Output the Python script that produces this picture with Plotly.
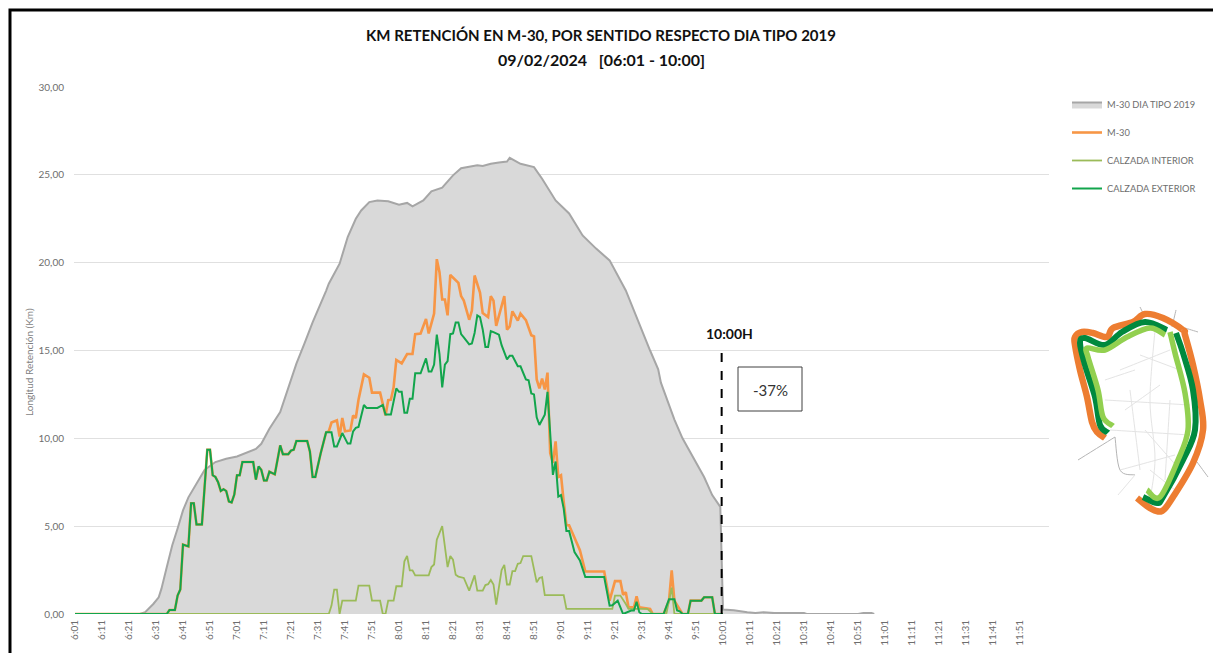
import plotly.graph_objects as go

W, H = 1213, 653
TICK_LABELS = ["6:01","6:11","6:21","6:31","6:41","6:51","7:01","7:11","7:21","7:31","7:41","7:51",
               "8:01","8:11","8:21","8:31","8:41","8:51","9:01","9:11","9:21","9:31","9:41","9:51",
               "10:01","10:11","10:21","10:31","10:41","10:51","11:01","11:11","11:21","11:31","11:41","11:51"]
Y_TICKS = [0, 5, 10, 15, 20, 25, 30]
Y_LABELS = ["0,00", "5,00", "10,00", "15,00", "20,00", "25,00", "30,00"]

# minutes after 6:01, km
tipo_min = [0,24,26,29,31,32,34,36,38,40,42,44,46,48,52,56,60,62,67,69,72,76,79,82,85,88,93,94,98,101,104,106,109,112,116,120,123,125,129,132,136,140,143,149,151,154,157,160,161,165,170,173,178,183,188,193,198,204,213,216,217,222,225,229,233,236,239,240,244,249,252,255,259,270,271,290,292,295,296]
tipo_val = [0,0,.1,.57,.95,1.43,2.67,3.9,4.87,5.9,6.64,7.15,7.73,8.2,8.65,8.84,8.97,9.1,9.4,9.69,10.55,11.5,12.9,14.25,15.4,16.6,18.4,18.8,19.94,21.46,22.5,22.97,23.45,23.54,23.5,23.3,23.4,23.2,23.54,24.06,24.27,24.97,25.38,25.54,25.5,25.63,25.7,25.76,25.97,25.63,25.44,24.78,23.54,22.8,21.55,20.8,20.13,18.42,15.0,13.93,13.17,11.07,10.0,8.87,7.8,6.77,6.1,.25,.22,.1,.06,.1,.05,.05,0,0,.06,.06,0]

ext_min = [0,34,35,37,38,39,40,42,43,44,45,47,49,50,51,52,53,54,55,56,57,58,59,60,61,62,66,67,68,69,70,71,72,74,76,77,79,80,81,82,86,87,88,89,91,93,95,96,97,99,101,102,103,104,105,107,108,112,114,115,117,119,120,121,122,123,124,125,126,128,130,131,132,133,134,135,136,137,138,139,140,141,142,143,144,146,147,148,149,150,151,152,153,154,155,157,158,160,161,162,164,165,167,168,169,170,171,172,174,175,177,178,179,180,181,182,183,185,187,189,196,198,199,201,203,206,207,208,209,210,218,220,222,223,224,225,227,228,232,233,236,237,240]
ext_val = [0,0,.23,.23,1.05,1.4,3.95,3.85,6.3,6.3,5.1,5.1,9.35,9.35,7.9,7.8,7.5,7.0,7.1,7.0,6.4,6.35,6.8,7.9,7.9,8.65,8.65,7.65,8.4,8.2,7.6,7.6,8.1,7.95,9.6,9.1,9.1,9.3,9.35,9.85,9.85,9.25,7.8,7.8,9.15,10.34,10.34,9.54,9.54,10.3,9.7,9.7,10.4,10.6,10.65,11.9,11.73,11.73,11.9,11.35,11.35,12.84,12.65,12.65,11.45,11.45,12.25,12.25,13.7,13.7,14.55,13.8,13.8,14.2,15.9,14.8,12.9,14.2,14.4,15.93,15.97,16.6,16.6,15.93,15.75,15.35,15.4,16.0,17.0,16.9,16.2,15.2,15.2,16.1,16.05,15.9,15.3,14.5,14.7,14.7,14.1,14.1,13.35,13.3,12.55,12.5,11.2,10.76,11.35,12.65,7.92,8.68,6.68,6.77,6.0,4.73,4.73,3.53,3.05,2.1,2.1,.48,.5,.76,0,.2,.2,.7,.1,0,0,.84,.84,.2,.15,0,0,.76,.76,.95,.95,0,0]

m30_min = [0,34,35,37,38,39,40,42,43,44,45,47,49,50,51,52,53,54,55,56,57,58,59,60,61,62,66,67,68,69,70,71,72,74,76,77,79,80,81,82,86,87,88,89,91,
           93,94,95,97,98,99,100,102,103,104,105,107,109,110,113,115,116,117,118,119,121,123,125,126,128,130,131,133,134,135,136,137,138,139,
           142,143,144,146,147,148,150,151,153,154,155,156,159,160,161,162,164,165,167,169,170,171,172,173,174,175,
           176,177,178,179,180,181,182,183,186,187,189,196,198,200,202,203,204,205,207,208,209,213,214,218,220,221,222,224,225,227,228,232,233,236,237,240]
m30_val = [0,0,.23,.23,1.05,1.4,3.95,3.85,6.3,6.3,5.1,5.1,9.35,9.35,7.9,7.8,7.5,7.0,7.1,7.0,6.4,6.35,6.8,7.9,7.9,8.65,8.65,7.65,8.4,8.2,7.6,7.6,8.1,7.95,9.6,9.1,9.1,9.3,9.35,9.85,9.85,9.25,7.8,7.8,9.15,
           10.34,10.4,10.9,11.03,10.1,11.16,10.4,10.45,11.3,11.16,12.2,13.64,13.45,12.6,12.6,11.3,12.17,12.2,12.9,14.46,14.27,14.8,14.8,15.93,15.97,16.8,15.97,17.1,20.2,19.46,17.9,17.9,17.0,19.3,
           18.85,18.1,17.84,16.75,17.27,19.27,18.3,17.13,16.9,18.09,17.84,16.4,18.1,16.18,16.37,17.23,16.7,17.1,16.73,15.87,15.8,13.35,12.84,13.4,12.78,13.74,
           9.16,8.6,9.83,7.8,7.9,6.4,5.05,5.05,3.9,3.63,2.42,2.42,.76,1.87,1.87,1.1,1.24,.38,.38,1.0,.38,.29,0,0,.76,2.48,.76,.2,0,0,.76,.76,.95,.95,0,0]

int_min = [0,94,95,96,97,98,99,104,105,109,110,113,114,115,116,118,119,121,122,123,124,125,126,131,132,133,134,136,138,139,140,141,142,144,146,148,149,151,152,153,154,155,156,158,159,160,161,162,163,164,165,166,169,171,172,173,174,181,182,199,200,202,204,205,212,214,219,221,222,223,240]
int_val = [0,0,.48,1.39,1.39,0,.76,.76,1.62,1.62,.76,.76,0,0,.76,.76,1.58,1.58,3.0,3.3,2.48,2.48,2.2,2.2,2.67,2.82,4.23,5.0,2.67,3.3,3.09,2.23,2.13,2.05,1.33,2.2,1.33,1.33,1.65,1.7,1.94,1.68,.53,2.5,2.8,1.68,1.68,2.44,2.44,2.86,2.9,3.3,3.3,1.8,2.05,2.1,1.07,1.07,.29,.29,1.05,1.05,.57,.29,.29,0,0,1.5,0,0,0]

# decorative ring map, in page pixels
map_orange = [(1105,438),(1097,432),(1092,422),(1087,397),(1080,370),(1075,345),(1075,337),(1082,332),(1093,333),(1107,337),(1113,328),(1133,322),(1145,314),(1163,318),(1183,330),(1185,335),(1193,365),(1200,400),(1203,430),(1193,463),(1173,497),(1162,511),(1150,508),(1137,498)]
map_dark_a = [(1108,433),(1100,425),(1095,397),(1085,365),(1080,343),(1085,338),(1105,345),(1122,332),(1145,322),(1167,330)]
map_dark_b = [(1176,333),(1183,353),(1193,390),(1195,430),(1183,460),(1163,497),(1157,503),(1143,497)]
map_light_a = [(1113,426),(1103,417),(1098,390),(1088,357),(1087,348),(1105,350),(1127,337),(1150,328),(1165,335)]
map_light_b = [(1170,332),(1175,353),(1185,393),(1188,430),(1178,460),(1160,497),(1147,490)]
map_roads = [[(1140,307),(1143,313)],[(1176,310),(1172,327)],[(1185,328),(1198,332)],[(1197,462),(1208,477)],
             [(1078,460),(1115,437)],[(1115,437),(1120,470),(1135,475)],[(1135,475),(1118,495)],
             [(1155,330),(1150,400),(1155,460),(1148,510)],[(1105,400),(1190,405)],[(1110,430),(1190,435)],
             [(1130,390),(1140,470)],[(1120,370),(1170,350)],[(1170,400),(1165,480)],[(1120,470),(1175,455)],
             [(1125,410),(1160,385)],[(1145,430),(1180,470)],[(1140,355),(1180,370)],[(1105,380),(1135,370)],[(1150,470),(1175,490)]]

assert len(tipo_min) == len(tipo_val) and len(ext_min) == len(ext_val)
assert len(m30_min) == len(m30_val) and len(int_min) == len(int_val)

fig = go.Figure()
fig.add_trace(go.Scatter(x=tipo_min, y=tipo_val, name="M-30 DIA TIPO 2019", mode="lines", fill="tozeroy",
                         fillcolor="#D9D9D9", line=dict(color="#A6A6A6", width=2), legendgroup="a"))
fig.add_trace(go.Scatter(x=m30_min, y=m30_val, name="M-30", mode="lines",
                         line=dict(color="#F79646", width=2.6), legendgroup="b"))
fig.add_trace(go.Scatter(x=int_min, y=int_val, name="CALZADA INTERIOR", mode="lines",
                         line=dict(color="#9BBB59", width=1.8), legendgroup="c"))
fig.add_trace(go.Scatter(x=ext_min, y=ext_val, name="CALZADA EXTERIOR", mode="lines",
                         line=dict(color="#12A54C", width=2), legendgroup="d"))

FONT = "Lato, 'Open Sans', sans-serif"
shapes = []
def fx(x): return f"{x/W:.5f}"
def fy(y): return f"{1-y/H:.5f}"
def poly(points, color, width, smooth=True):
    d = f"M{fx(points[0][0])},{fy(points[0][1])}"
    n = len(points)
    for i in range(n - 1):
        p0 = points[max(i - 1, 0)]; p1 = points[i]; p2 = points[i + 1]; p3 = points[min(i + 2, n - 1)]
        if smooth:
            c1 = (p1[0] + (p2[0] - p0[0]) / 6, p1[1] + (p2[1] - p0[1]) / 6)
            c2 = (p2[0] - (p3[0] - p1[0]) / 6, p2[1] - (p3[1] - p1[1]) / 6)
            d += f" C{fx(c1[0])},{fy(c1[1])} {fx(c2[0])},{fy(c2[1])} {fx(p2[0])},{fy(p2[1])}"
        else:
            d += f" L{fx(p2[0])},{fy(p2[1])}"
    shapes.append(dict(type="path", xref="paper", yref="paper", path=d,
                       line=dict(color=color, width=width), layer="above"))
for i, r in enumerate(map_roads):
    poly(r, "#B5B5B5" if i < 6 else "#E4E4E4", 1)
poly(map_orange, "#ED7D31", 6.5)
poly(map_dark_a, "#00893E", 6)
poly(map_dark_b, "#00893E", 6)
poly(map_light_a, "#92D050", 5.5)
poly(map_light_b, "#92D050", 5.5)
# black frame
poly([(10, H), (10, 10), (W, 10)], "#000000", 3, smooth=False)
# 10:00 marker
shapes.append(dict(type="line", xref="x", yref="y", x0=239.5, x1=239.5, y0=0, y1=15,
                   line=dict(color="#000000", width=2, dash="dash"), layer="above"))
# -37% box
shapes.append(dict(type="rect", xref="paper", yref="paper", x0=738/W, x1=802/W, y0=1-411/H, y1=1-367/H,
                   line=dict(color="#404040", width=1), fillcolor="#FFFFFF", layer="above"))

fig.update_layout(
    width=W, height=H, margin=dict(l=0, r=0, t=0, b=0), paper_bgcolor="#FFFFFF", plot_bgcolor="#FFFFFF",
    font=dict(family=FONT, color="#7F7F7F", size=10),
    title=dict(text="KM RETENCIÓN EN M-30, POR SENTIDO RESPECTO DIA TIPO 2019",
               font=dict(family=FONT, size=15, color="#111111", weight="bold"),
               x=601/W, xanchor="center", y=1-36/H, yanchor="middle", automargin=False),
    xaxis=dict(domain=[74/W, 1049/W], range=[-0.37, 360.74], tickmode="array", automargin=False,
               tickvals=[i*10 for i in range(len(TICK_LABELS))], ticktext=TICK_LABELS,
               tickangle=-90, showgrid=False, zeroline=False, showline=False, ticks="", ticklabelstandoff=3,
               tickfont=dict(size=10, color="#6E6E6E")),
    yaxis=dict(domain=[1-614/H, 1-87/H], range=[0, 30], tickmode="array", tickvals=Y_TICKS, ticktext=Y_LABELS,
               showgrid=True, gridcolor="#E0E0E0", gridwidth=1, zeroline=False, ticks="", automargin=False,
               ticklabelstandoff=9, tickfont=dict(size=10, color="#6E6E6E")),
    legend=dict(x=1067/W, y=1-90/H, xanchor="left", yanchor="top", bgcolor="rgba(0,0,0,0)",
                tracegroupgap=9, itemwidth=30, font=dict(size=9.3, color="#6E6E6E")),
    shapes=shapes,
    annotations=[
        dict(text="<b>09/02/2024\u00a0\u00a0\u00a0[06:01 - 10:00]</b>", xref="paper", yref="paper", x=601/W, y=1-59/H,
             showarrow=False, xanchor="center", yanchor="middle", font=dict(size=16, color="#111111")),
        dict(text="Longitud Retención (Km)", xref="paper", yref="paper", x=29/W, y=1-362/H, showarrow=False,
             textangle=-90, xanchor="center", yanchor="middle", font=dict(size=10, color="#7F7F7F")),
        dict(text="<b>10:00H</b>", xref="paper", yref="paper", x=729/W, y=1-333/H, showarrow=False,
             xanchor="center", yanchor="middle", font=dict(size=14, color="#111111")),
        dict(text="-37%", xref="paper", yref="paper", x=770/W, y=1-390/H, showarrow=False,
             xanchor="center", yanchor="middle", font=dict(size=15, color="#333333")),
    ],
)
fig.write_html("out.html", post_script="document.body.style.margin='0';document.documentElement.style.overflow='hidden';",
               config=dict(displayModeBar=False))
